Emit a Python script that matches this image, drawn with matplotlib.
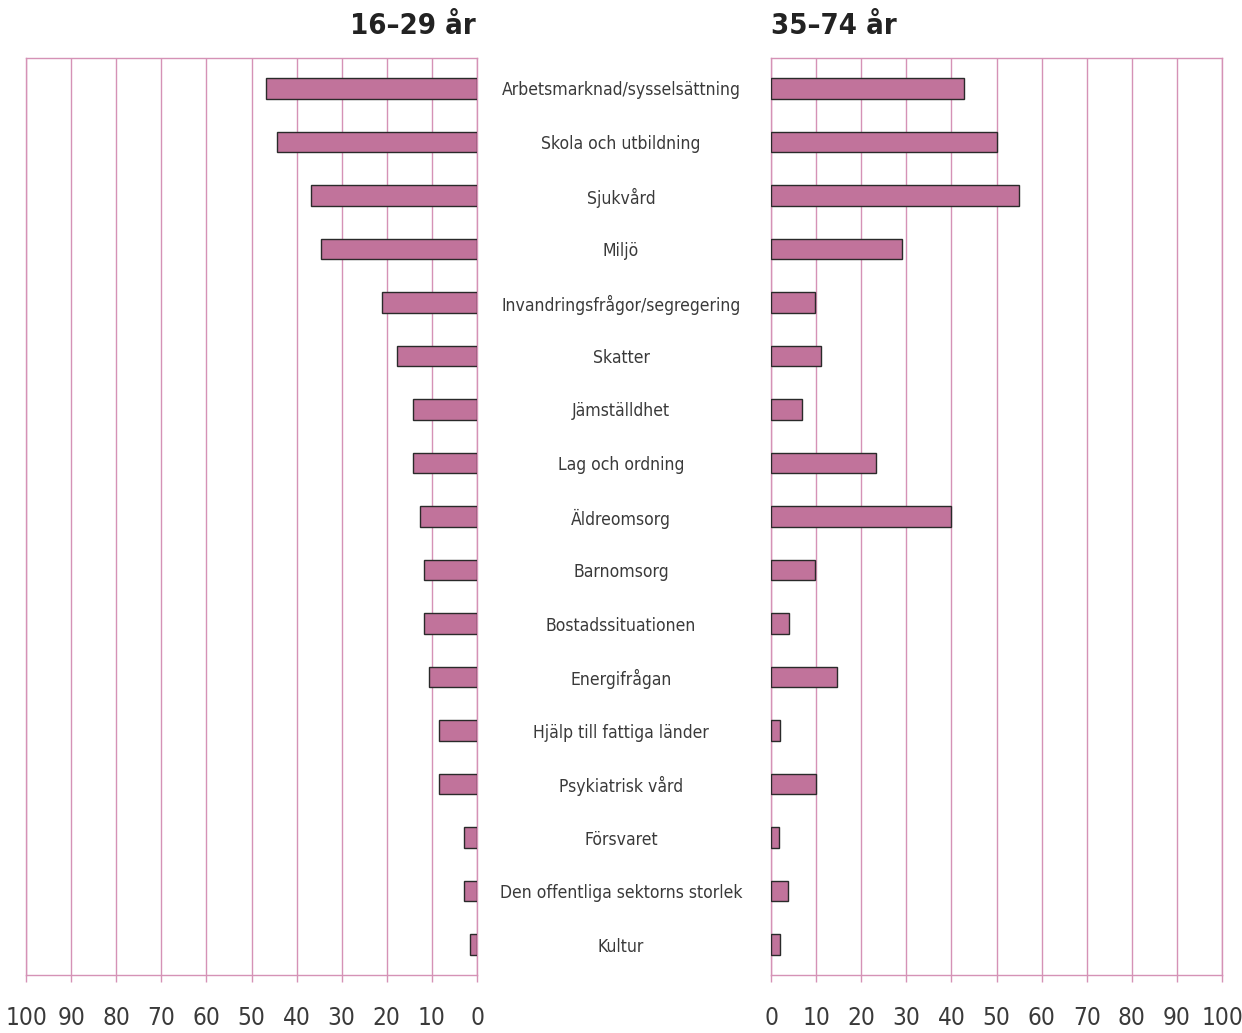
import matplotlib
matplotlib.use('Agg')
import matplotlib.pyplot as plt
from matplotlib import font_manager
from matplotlib.font_manager import FontProperties
import numpy as np

# Data
categories = ['Arbetsmarknad/sysselsättning', 'Skola och utbildning', 'Sjukvård', 'Miljö',
              'Invandringsfrågor/segregering', 'Skatter', 'Jämställdhet', 'Lag och ordning',
              'Äldreomsorg', 'Barnomsorg', 'Bostadssituationen', 'Energifrågan',
              'Hjälp till fattiga länder', 'Psykiatrisk vård', 'Försvaret',
              'Den offentliga sektorns storlek', 'Kultur']
young = [46.8, 44.3, 36.8, 34.6, 21.1, 17.7, 14.2, 14.2, 12.6, 11.8, 11.8, 10.6,
         8.4, 8.4, 2.9, 2.9, 1.6]
old = [42.8, 50.1, 55.0, 29.0, 9.8, 11.1, 6.9, 23.3, 39.9, 9.8, 4.0, 14.6,
       2.0, 10.0, 1.8, 3.8, 2.0]
ticks = np.arange(0, 101, 10)
titles = ['16–29 år', '35–74 år']

bar_color = '#c1739b'
grid_color = '#d592b6'
text_color = '#3a3a3a'


# look for a narrow / condensed face, otherwise fall back to DejaVu Sans
def find_font(bold):
    for f in font_manager.fontManager.ttflist:
        name = f.name.lower() + ' ' + f.fname.lower()
        narrow = ('condensed' in name or 'narrow' in name or 'cond' in f.fname.lower()
                  or f.stretch in ('condensed', 'semi-condensed', 'extra-condensed', 'ultra-condensed'))
        if not narrow or 'italic' in f.fname.lower() or f.style != 'normal':
            continue
        w = f.weight if isinstance(f.weight, int) else (700 if 'bold' in str(f.weight) else 400)
        if bold and w >= 600:
            return FontProperties(fname=f.fname)
        if not bold and 350 <= w <= 500:
            return FontProperties(fname=f.fname)
    return FontProperties(family='DejaVu Sans', weight='bold' if bold else 'normal')


fp_reg = find_font(False)
fp_bold = find_font(True)

fig = plt.figure(figsize=(12.42, 10.33), dpi=100)
W, H = 1242, 1033
renderer = fig.canvas.get_renderer()


def fit_size(text, fp, target_px, base=20):
    t = fig.text(0, 0, text, fontproperties=fp, fontsize=base)
    w = t.get_window_extent(renderer).width
    t.remove()
    return base * target_px / w


cat_size = min(fit_size('Arbetsmarknad/sysselsättning', fp_reg, 239), 16)
tick_size = 17.5
title_size = 21

ax_l = fig.add_axes([26 / W, 58 / H, 451 / W, 917 / H])
ax_r = fig.add_axes([771 / W, 58 / H, 451 / W, 917 / H])

y = np.arange(len(categories))

for ax, vals in [(ax_l, young), (ax_r, old)]:
    ax.barh(y, vals, height=0.38, color=bar_color, edgecolor='#2a2a2a', linewidth=1.0, zorder=3)
    ax.set_ylim(len(categories) - 0.43, -0.57)
    ax.set_yticks([])
    ax.set_xticks(ticks)
    ax.set_xticklabels([str(t) for t in ticks], fontproperties=fp_reg, fontsize=tick_size)
    ax.tick_params(axis='x', length=5, width=1, color=grid_color, pad=17, labelcolor=text_color)
    ax.grid(axis='x', color=grid_color, linewidth=1, zorder=0)
    for s in ax.spines.values():
        s.set_color(grid_color)
        s.set_linewidth(1)

ax_l.set_xlim(100, 0)
ax_r.set_xlim(0, 100)

# category labels between panels
for i, c in enumerate(categories):
    yy = ax_l.transData.transform((0, i))[1]
    fig.text(621 / W, (yy - 2) / H, c, ha='center', va='center',
             fontproperties=fp_reg, fontsize=cat_size, color=text_color)

fig.text(476 / W, 1 - 26 / H, titles[0], ha='right', va='center', fontproperties=fp_bold,
         fontsize=title_size, color='#222222')
fig.text(771 / W, 1 - 26 / H, titles[1], ha='left', va='center', fontproperties=fp_bold,
         fontsize=title_size, color='#222222')

plt.savefig('out.png', dpi=100)
